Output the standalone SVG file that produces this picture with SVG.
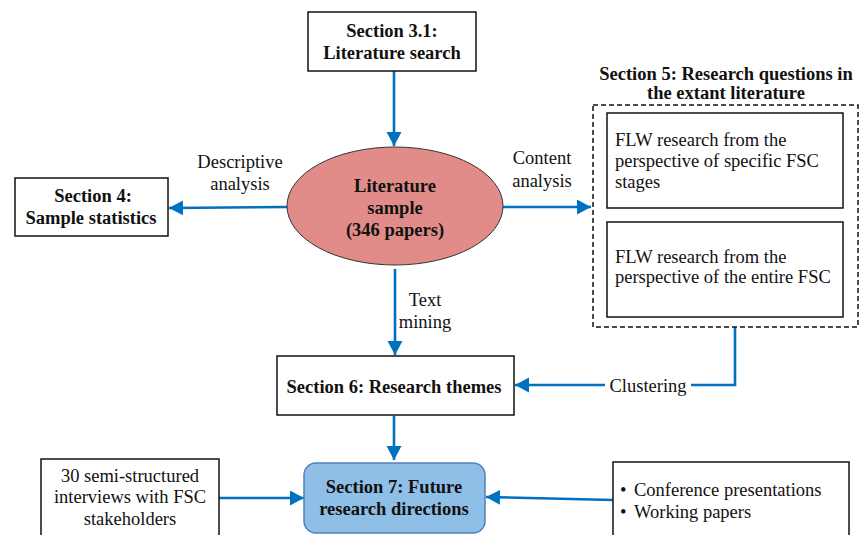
<svg xmlns="http://www.w3.org/2000/svg" width="859" height="535" viewBox="0 0 859 535">
<defs>
<marker id="ah" markerUnits="userSpaceOnUse" markerWidth="16" markerHeight="16" refX="14" refY="7.5" orient="auto">
<path d="M0,0 L14,7.5 L0,15 z" fill="#0070C0"/>
</marker>
<style>
text{font-family:"Liberation Serif","Times New Roman",serif;font-size:18.5px;fill:#111}
.b{font-weight:bold}
.c{text-anchor:middle}
.box{fill:#fff;stroke:#111;stroke-width:1.5}
.con{fill:none;stroke:#0070C0;stroke-width:2.6;marker-end:url(#ah)}
.line{fill:none;stroke:#0070C0;stroke-width:2.6}
</style>
</defs>
<rect width="859" height="535" fill="#fff"/>

<g id="connectors">
<line class="con" x1="394" y1="71" x2="394" y2="146"/>
<line class="con" x1="287" y1="207" x2="169" y2="208"/>
<line class="con" x1="503" y1="207" x2="591" y2="207"/>
<line class="con" x1="395" y1="269" x2="395" y2="355"/>
<polyline class="con" points="735,327 735,385 515,385"/>
<line class="con" x1="394" y1="416" x2="394" y2="460"/>
<line class="con" x1="219" y1="498" x2="304" y2="498"/>
<line class="con" x1="613" y1="500" x2="486" y2="497"/>
<rect x="605" y="372" width="86" height="26" fill="#fff"/>
<text class="c" x="648" y="392">Clustering</text>
<text class="c" x="240" y="168">Descriptive</text>
<text class="c" x="240" y="190">analysis</text>
<text class="c" x="542" y="164">Content</text>
<text class="c" x="542" y="187">analysis</text>
<text class="c" x="425" y="306">Text</text>
<text class="c" x="425" y="328">mining</text>
</g>

<g id="s31">
<rect class="box" x="308" y="12" width="168" height="59"/>
<text class="b c" x="392" y="37">Section 3.1:</text>
<text class="b c" x="392" y="59">Literature search</text>
</g>

<g id="sample">
<ellipse cx="395" cy="206" rx="108" ry="59" fill="#E28C89" stroke="#333" stroke-width="1"/>
<text class="b c" x="395" y="192">Literature</text>
<text class="b c" x="395" y="214">sample</text>
<text class="b c" x="395" y="236">(346 papers)</text>
</g>

<g id="s4">
<rect class="box" x="15" y="178" width="153" height="58"/>
<text class="b c" x="93" y="202">Section 4:</text>
<text class="b c" x="91" y="224">Sample statistics</text>
</g>

<g id="s5">
<text class="b c" x="726" y="80">Section 5: Research questions in</text>
<text class="b c" x="726" y="99">the extant literature</text>
<rect x="593" y="105" width="265" height="222" fill="none" stroke="#111" stroke-width="1.5" stroke-dasharray="5,3"/>
<rect class="box" x="607" y="113" width="236" height="95"/>
<text x="615" y="146">FLW research from the</text>
<text x="615" y="167">perspective of specific FSC</text>
<text x="615" y="188">stages</text>
<rect class="box" x="607" y="222" width="236" height="95"/>
<text x="615" y="263">FLW research from the</text>
<text x="615" y="283">perspective of the entire FSC</text>
</g>

<g id="s6">
<rect class="box" x="277" y="356" width="237" height="59"/>
<text class="b c" x="394" y="393">Section 6: Research themes</text>
</g>

<g id="s7">
<rect x="304" y="463" width="181" height="70" rx="12" ry="12" fill="#8FBEE6" stroke="#4F81BD" stroke-width="1.5"/>
<text class="b c" x="394" y="493">Section 7: Future</text>
<text class="b c" x="394" y="515">research directions</text>
</g>

<g id="interviews">
<rect class="box" x="41" y="459" width="178" height="85"/>
<text class="c" x="130" y="482">30 semi-structured</text>
<text class="c" x="130" y="503">interviews with FSC</text>
<text class="c" x="130" y="525">stakeholders</text>
</g>

<g id="other">
<rect class="box" x="613" y="462" width="236" height="85"/>
<text x="620" y="496">•</text>
<text x="634" y="496">Conference presentations</text>
<text x="620" y="518">•</text>
<text x="634" y="518">Working papers</text>
</g>
</svg>
